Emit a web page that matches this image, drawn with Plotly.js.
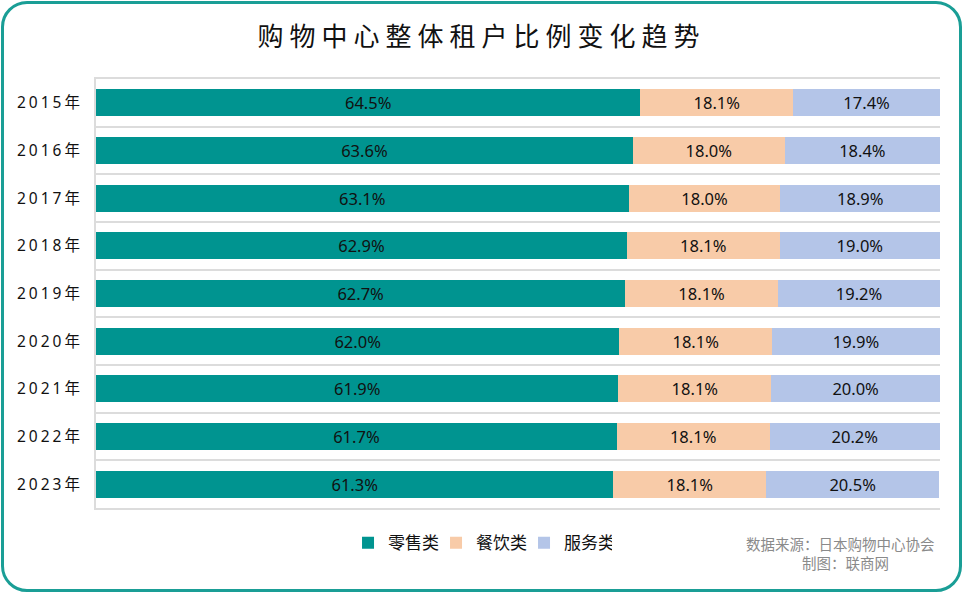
<!DOCTYPE html>
<html>
<head>
<meta charset="utf-8">
<script src="https://cdn.plot.ly/plotly-3.0.1.min.js"></script>
<style>
  body { margin: 0; background: #fff; }
  #wrap { position: relative; width: 963px; height: 593px; }
  #chart { width: 963px; height: 593px; }
  #frame {
    position: absolute; left: 1px; top: 1px; width: 961px; height: 591px;
    box-sizing: border-box; border: 3px solid #1a9e96; border-radius: 26px;
    pointer-events: none;
  }
  .gtitle { letter-spacing: 6px; }
  .ytick text { letter-spacing: 3px; }
</style>
</head>
<body>
<div id="wrap">
  <div id="chart"></div>
  <div id="frame"></div>
</div>
<script>
const years = ["2015年", "2016年", "2017年", "2018年", "2019年", "2020年", "2021年", "2022年", "2023年"];
const retail = [64.5, 63.6, 63.1, 62.9, 62.7, 62.0, 61.9, 61.7, 61.3];
const food = [18.1, 18.0, 18.0, 18.1, 18.1, 18.1, 18.1, 18.1, 18.1];
const service = [17.4, 18.4, 18.9, 19.0, 19.2, 19.9, 20.0, 20.2, 20.5];

const fontFam = '"Noto Sans", "Noto Sans CJK SC", sans-serif';
const cjk = '"Noto Sans CJK SC", sans-serif';

function series(name, vals, color) {
  return {
    type: 'bar',
    orientation: 'h',
    name: name,
    y: years,
    x: vals,
    marker: { color: color },
    texttemplate: '%{x:.1f}%',
    textposition: 'inside',
    insidetextanchor: 'middle',
    constraintext: 'none',
    textfont: { size: 16.5, color: '#111', family: fontFam },
    hoverinfo: 'y+x+name'
  };
}

const traces = [
  series('零售类', retail, '#009490'),
  series('餐饮类', food, '#f8cba8'),
  series('服务类', service, '#b4c5e8')
];

Plotly.newPlot('chart', traces, {
  width: 963,
  height: 593,
  barmode: 'stack',
  bargap: 0.43,
  paper_bgcolor: 'rgba(0,0,0,0)',
  plot_bgcolor: '#fff',
  font: { family: fontFam, color: '#1a1a1a' },
  margin: { l: 96, r: 23, t: 79, b: 85 },
  title: {
    text: '购物中心整体租户比例变化趋势',
    x: 0.5, xanchor: 'center',
    y: 0.937, yanchor: 'middle',
    font: { size: 26, color: '#111', family: cjk }
  },
  xaxis: {
    range: [0, 100],
    showgrid: false,
    zeroline: false,
    showticklabels: false,
    showline: true,
    mirror: true,
    linecolor: '#dcdcdc',
    linewidth: 2,
    ticks: '',
    fixedrange: true
  },
  yaxis: {
    type: 'category',
    autorange: 'reversed',
    tickson: 'boundaries',
    showgrid: true,
    gridcolor: '#dcdcdc',
    gridwidth: 2,
    showline: true,
    linecolor: '#dcdcdc',
    linewidth: 2,
    ticks: '',
    ticklabelstandoff: 8,
    tickfont: { size: 15.5, color: '#111', family: fontFam }
  },
  showlegend: true,
  legend: {
    orientation: 'h',
    x: 0.455, xanchor: 'center',
    y: -0.082, yanchor: 'middle',
    font: { size: 17, color: '#111', family: cjk },
    itemwidth: 30,
    entrywidth: 43,
    entrywidthmode: 'pixels',
    traceorder: 'normal'
  },
  annotations: [
    {
      xref: 'paper', yref: 'paper',
      x: 0.9965, y: -0.082,
      xanchor: 'right', yanchor: 'middle',
      showarrow: false,
      text: '数据来源：日本购物中心协会',
      font: { size: 14.5, color: '#8a8a8a', family: cjk }
    },
    {
      xref: 'paper', yref: 'paper',
      x: 0.888, y: -0.126,
      xanchor: 'center', yanchor: 'middle',
      showarrow: false,
      text: '制图：联商网',
      font: { size: 14.5, color: '#8a8a8a', family: cjk }
    }
  ]
}, { displayModeBar: false, staticPlot: true });
</script>
</body>
</html>
